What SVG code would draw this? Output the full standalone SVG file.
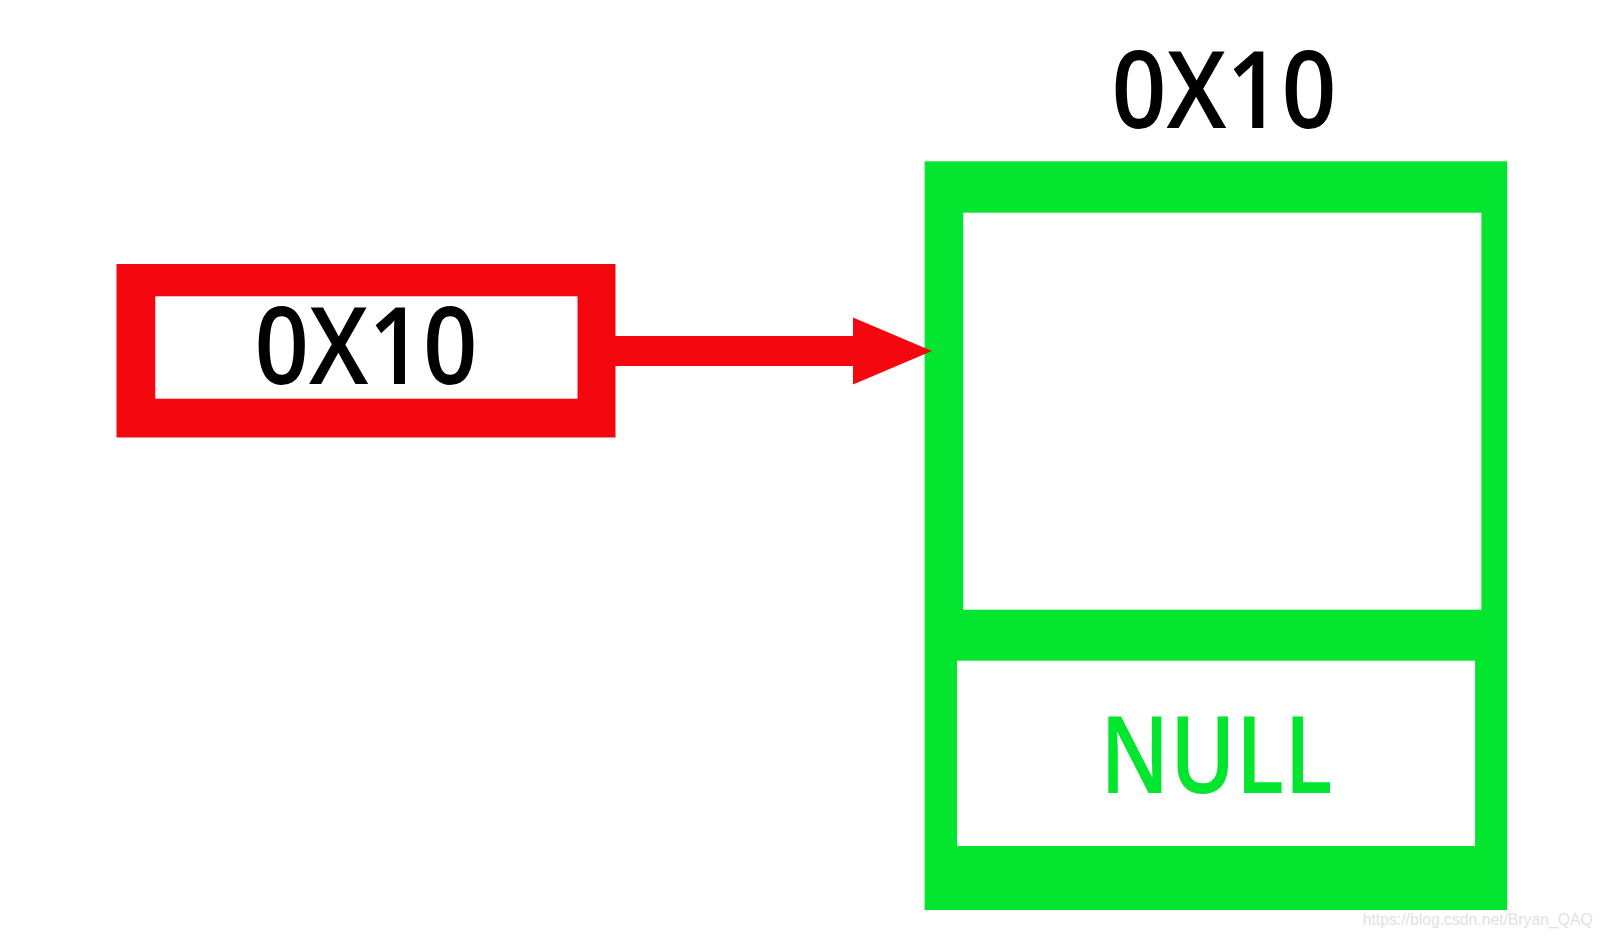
<svg xmlns="http://www.w3.org/2000/svg" width="1602" height="938" viewBox="0 0 1602 938">
  <style>
    .lbl { font-family: "Open Sans", "Noto Sans", "DejaVu Sans", sans-serif; font-weight: 600; font-size: 106px; text-anchor: middle; }
    .red { fill: #F5070F; }
    .green { fill: #03E52F; }
    .white { fill: #FFFFFF; }
    .wm { font-family: "Liberation Sans", Arial, sans-serif; font-size: 16px; fill: #E2E2E2; }
  </style>
  <defs>
    <marker id="head" markerUnits="userSpaceOnUse" markerWidth="80" markerHeight="70" viewBox="0 -35 80 70" refX="0" refY="0" orient="auto">
      <path d="M0,-33.5 L79,0 L0,33.5 Z" fill="#F5070F"/>
    </marker>
  </defs>
  <rect x="0" y="0" width="1602" height="938" fill="#FFFFFF"/>

  <g id="pointer">
    <rect class="red" x="116.5" y="264" width="499" height="173.5"/>
    <rect class="white" x="155.3" y="296.3" width="422.2" height="102.4"/>
    <text class="lbl" x="366" y="384" fill="#000000" textLength="223" lengthAdjust="spacingAndGlyphs">0X10</text>
  </g>

  <g id="node">
    <text class="lbl" x="1224" y="128" fill="#000000" textLength="225" lengthAdjust="spacingAndGlyphs">0X10</text>
    <rect class="green" x="924.6" y="161.3" width="582.6" height="748.7"/>
    <rect class="white" x="963.2" y="212.7" width="518.2" height="397"/>
    <rect class="white" x="957.1" y="660.7" width="518" height="185.3"/>
    <text class="lbl green" x="1216.3" y="792.5" textLength="232.5" lengthAdjust="spacingAndGlyphs">NULL</text>
  </g>

  <g id="connectors">
    <line x1="593" y1="351" x2="853" y2="351" stroke="#F5070F" stroke-width="30" marker-end="url(#head)"/>
  </g>

  <text class="wm" x="1362.7" y="925" textLength="230" lengthAdjust="spacingAndGlyphs">https://blog.csdn.net/Bryan_QAQ</text>
</svg>
